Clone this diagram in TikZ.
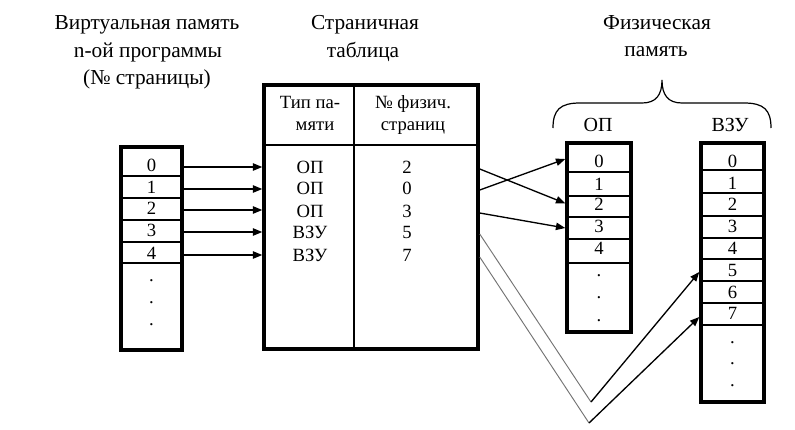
\documentclass[tikz,border=0pt]{standalone}
\usepackage{fontspec}
\setmainfont{Liberation Serif}
\usetikzlibrary{arrows.meta,fit}
\begin{document}
\begin{tikzpicture}[x=0.75pt,y=-0.75pt,
  thickbox/.style={draw,line width=2.6pt,inner sep=0pt},
  thinline/.style={line width=0.9pt},
  arr/.style={line width=1pt,-{Triangle[length=7pt,width=5.5pt]}},
  grayline/.style={line width=0.7pt,black!55},
  cell/.style={inner sep=0pt,font=\fontsize{14}{16}\selectfont,text height=0.66em,text depth=0pt,anchor=center},
  dotcell/.style={inner sep=0pt,font=\fontsize{14}{16}\selectfont,anchor=base},
  title/.style={inner sep=0pt,font=\fontsize{16}{20}\selectfont,anchor=base}]
\useasboundingbox (0,0) rectangle (795,429);
\fill[white] (0,0) rectangle (795,429);

% titles
\node[title] (t1a) at (147,29) {Виртуальная память};
\node[title] (t1b) at (148,57) {n-ой программы};
\node[title] (t1c) at (147,84) {(№ страницы)};
\node[title] (t2a) at (365,29) {Страничная};
\node[title] (t2b) at (363,57) {таблица};
\node[title] (t3a) at (657,29) {Физическая};
\node[title] (t3b) at (656,56) {память};
\node[title,font=\fontsize{15}{18}\selectfont] (lop) at (598,131) {ОП};
\node[title,font=\fontsize{15}{18}\selectfont] (lvzu) at (730,131) {ВЗУ};

% brace
\draw[thinline] (553,128) .. controls (553,110) and (560,103) .. (580,103) -- (642,103)
  .. controls (656,103) and (662,95) .. (662,80)
  .. controls (662,95) and (668,103) .. (682,103) -- (744,103)
  .. controls (764,103) and (771,110) .. (771,128);

% left column
\node[thickbox,fit={(121,147)(182,350)}] (vbox) {};
\foreach \y in {176,198,220,242,263} \draw[thinline] (121,\y) -- (182,\y);
\foreach \t/\y in {0/167,1/189,2/210,3/232,4/255} \node[cell] (v\t) at (151.5,\y) {\t};
\foreach \y [count=\i] in {281,303,325} \node[dotcell] (vd\i) at (151.5,\y) {.};

% table
\node[thickbox,fit={(264,85)(478,349)}] (tab) {};
\draw[thinline] (354,85) -- (354,349);
\draw[thinline] (264,145) -- (478,145);
\node[cell] (h1a) at (310,104) {Тип па-};
\node[cell] (h1b) at (315,126) {мяти};
\node[cell] (h2a) at (413,104) {№ физич.};
\node[cell] (h2b) at (413,126) {страниц};
\foreach \ty/\nu/\y [count=\i from 0] in {ОП/2/169,ОП/0/190,ОП/3/213,ВЗУ/5/234,ВЗУ/7/257}{
  \node[cell] (m\i) at (310,\y) {\ty};
  \node[cell] (n\i) at (407,\y) {\nu};
}

% OP column
\node[thickbox,fit={(567,143)(631,332)}] (obox) {};
\foreach \y in {172,196,217,239,263} \draw[thinline] (567,\y) -- (631,\y);
\foreach \t/\y in {0/163,1/186,2/206,3/228,4/250} \node[cell] (o\t) at (599,\y) {\t};
\foreach \y [count=\i] in {276,298,321} \node[dotcell] (od\i) at (599,\y) {.};

% VZU column
\node[thickbox,fit={(701,143)(764,402)}] (zbox) {};
\foreach \y in {170,193,216,238,259,281,303,325} \draw[thinline] (701,\y) -- (764,\y);
\foreach \t/\y in {0/163,1/185,2/206,3/228,4/250,5/272,6/294,7/315} \node[cell] (z\t) at (732.5,\y) {\t};
\foreach \y [count=\i] in {343,364,386} \node[dotcell] (zd\i) at (732.5,\y) {.};

% arrows left -> table
\foreach \i in {0,...,4} \draw[arr] (v\i.center -| vbox.east) -- (v\i.center -| tab.west);

% table -> OP
\draw[arr] (n0.center -| tab.east) -- ([yshift=2pt]o2.center -| obox.west);
\draw[arr] (n1.center -| tab.east) -- ([yshift=3pt]o0.center -| obox.west);
\draw[arr] (n2.center -| tab.east) -- (o3.center -| obox.west);

% table -> VZU via bottom
\coordinate (b1) at (591,402);
\coordinate (b2) at (589,423);
\draw[grayline] (n3.center -| tab.east) -- (b1);
\draw[arr] (b1) -- (z5.center -| zbox.west);
\draw[grayline] (n4.center -| tab.east) -- (b2);
\draw[arr] (b2) -- ([yshift=-1.5pt]z7.center -| zbox.west);
\end{tikzpicture}
\end{document}
